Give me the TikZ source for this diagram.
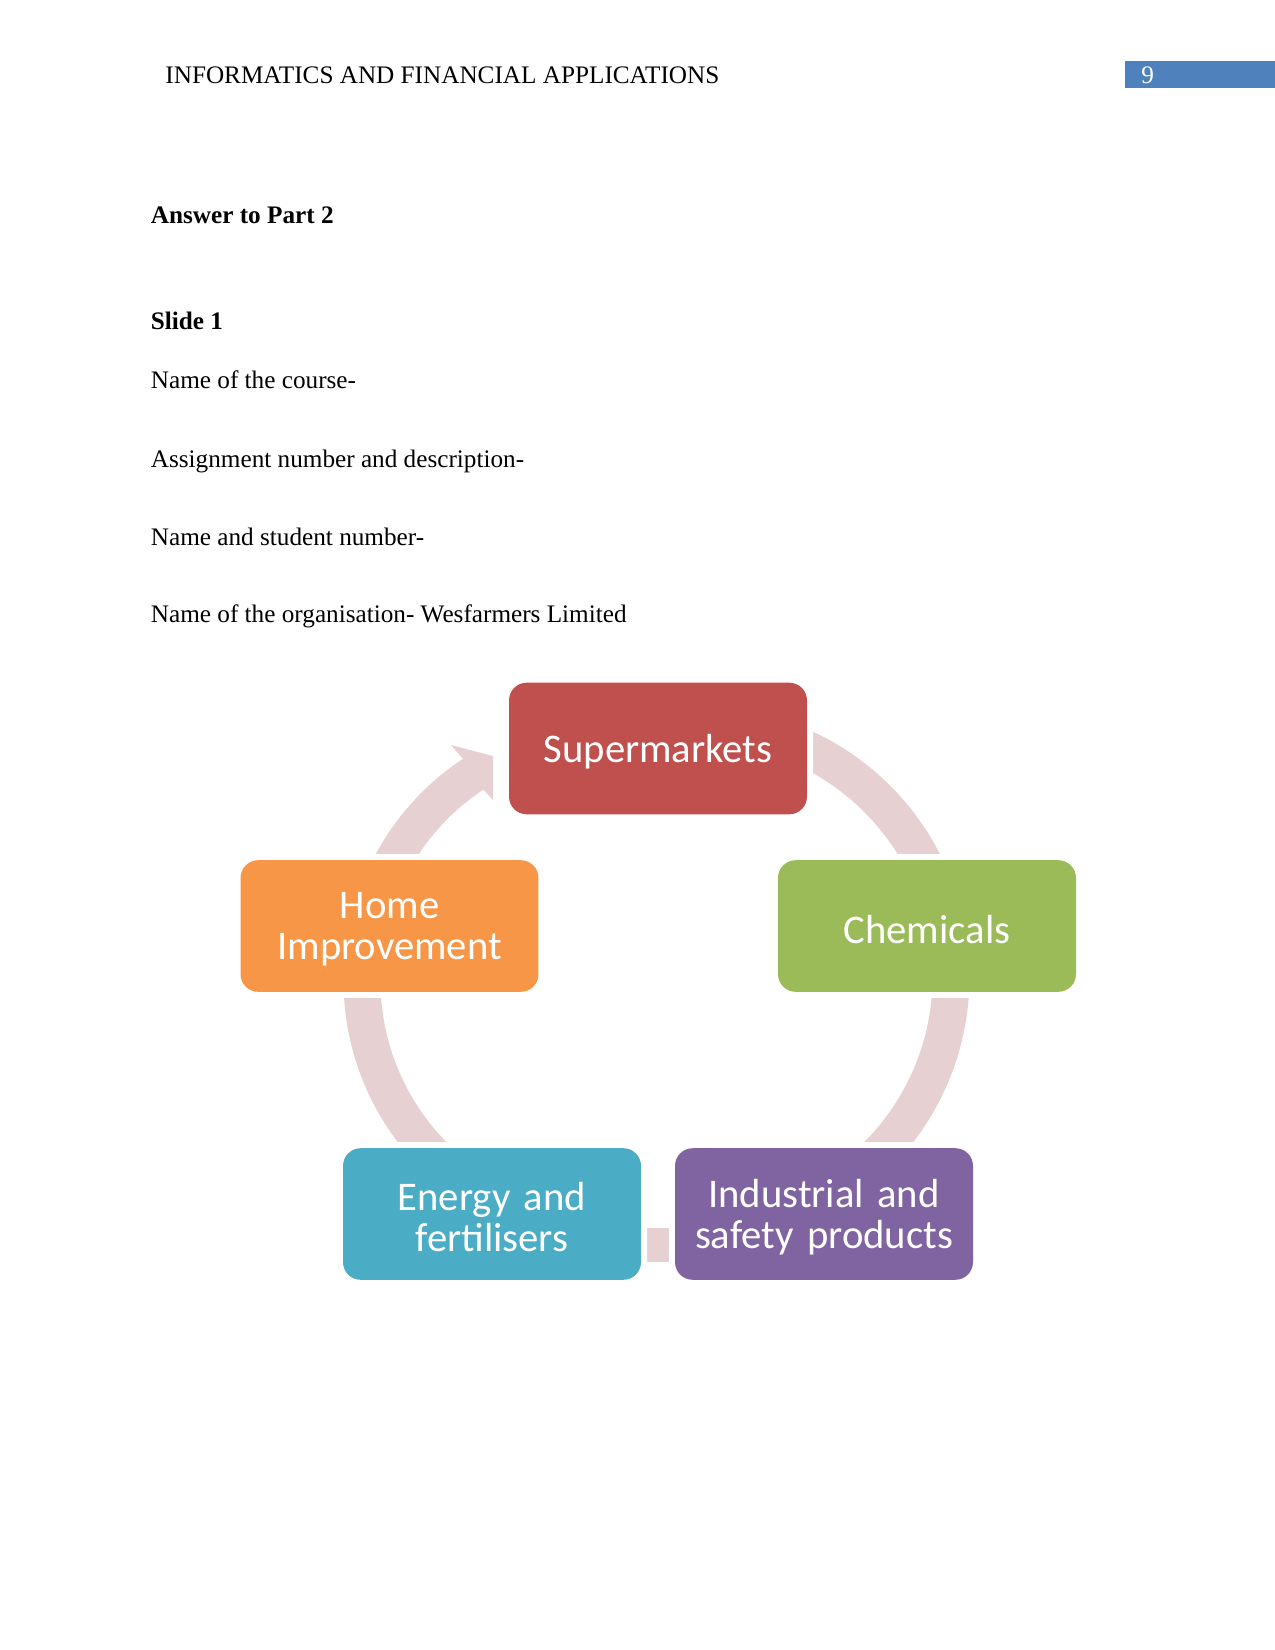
\documentclass[tikz,border=0pt]{standalone}
\usepackage{fontspec}
\setmainfont{Liberation Serif}
\newfontfamily\calfont{Carlito}
\definecolor{barblue}{HTML}{4F81BD}
\definecolor{supcol}{HTML}{C0504D}
\definecolor{chemcol}{HTML}{9BBB59}
\definecolor{homecol}{HTML}{F79646}
\definecolor{enercol}{HTML}{4BACC6}
\definecolor{indcol}{HTML}{8064A2}
\definecolor{arccol}{HTML}{E7D0D1}
\begin{document}
\begin{tikzpicture}[x=0.0169333cm,y=-0.0169333cm,
  bodytext/.style={anchor=base west, inner sep=0pt, font=\fontsize{12.15}{14}\selectfont},
  arcband/.style={draw=arccol, line width=17.8pt},
  boxtext/.style={text width=140pt, align=center, inner sep=0pt, text=white,
    font=\calfont\fontsize{19.6}{19.8}\selectfont, yshift=-1.5pt},
  cyclebox/.style={rounded corners=8.5pt, minimum width=143.6pt, minimum height=63.4pt,
    inner sep=0pt, preaction={draw=white, line width=5.8pt}}]
\useasboundingbox[fill=white] (0,0) rectangle (1275,1650);

% header
\fill[barblue] (1125,61) rectangle (1275,88);
\node[bodytext] (hdr) at (165,83) {INFORMATICS AND FINANCIAL APPLICATIONS};
\node[bodytext, text=white] (pg) at (1141,83) {9};

% body
\node[bodytext, font=\fontsize{12.15}{14}\selectfont\bfseries] (ans) at (150.5,223) {Answer to Part 2};
\node[bodytext, font=\fontsize{12.15}{14}\selectfont\bfseries] (sl) at (150.5,329) {Slide 1};
\node[bodytext] (l1) at (150.5,388) {Name of the course-};
\node[bodytext] (l2) at (150.5,467) {Assignment number and description-};
\node[bodytext] (l3) at (150.5,545) {Name and student number-};
\node[bodytext] (l4) at (150.5,622) {Name of the organisation- Wesfarmers Limited};

% cycle connectors (behind the boxes)
\coordinate (rc) at (699,977);
\coordinate (lc) at (610,981);
\draw[arcband] (rc) ++(-80:252) arc[start angle=-80, end angle=-15, radius=252];
\draw[arcband] (rc) ++(-5:252) arc[start angle=-5, end angle=50, radius=252];
\draw[arcband] (lc) ++(130:248) arc[start angle=130, end angle=185, radius=248];
\draw[arcband] (lc) ++(-160:248) arc[start angle=-160, end angle=-122.5, radius=248];
\fill[arccol] (451,745) -- (493,756) -- (493,800) -- (483.3,789.6) -- (462.9,758.8) -- cycle;
\fill[arccol] (646,1228) rectangle (670,1262);

% boxes
\node[cyclebox, fill=supcol, label={[boxtext]center:Supermarkets}] (sup) at (658,748.5) {};
\node[cyclebox, fill=chemcol, label={[boxtext]center:Chemicals}] (chem) at (927,926) {};
\node[cyclebox, fill=homecol, label={[boxtext]center:Home\\Improvement}] (home) at (389.5,926) {};
\node[cyclebox, fill=enercol, label={[boxtext]center:Energy and\\fertilisers}] (ener) at (492,1214) {};
\node[cyclebox, fill=indcol, label={[boxtext]center:Industrial and\\safety products}] (ind) at (824,1214) {};
\end{tikzpicture}
\end{document}
